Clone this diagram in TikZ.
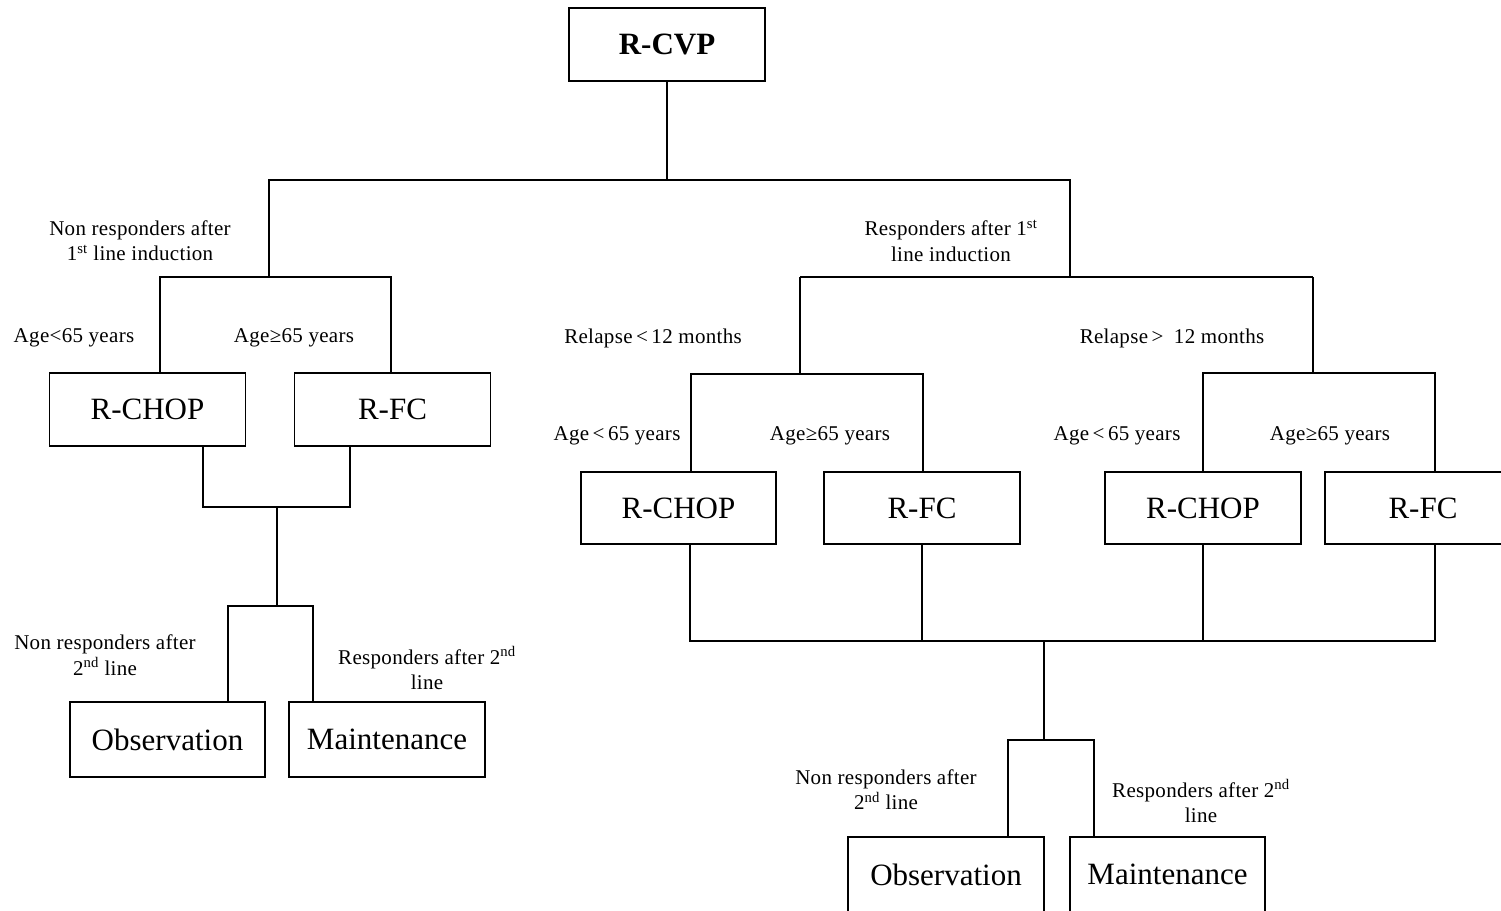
\documentclass[tikz,border=0pt]{standalone}
\usepackage{fontspec}
\setmainfont{Liberation Serif}
\begin{document}
\begin{tikzpicture}[x=1pt,y=-1pt,line width=1.3pt,
  box/.style={draw,line width=1.3pt,inner sep=0pt,minimum width=196pt,minimum height=73pt,font=\fontsize{31}{36}\selectfont},
  lbl/.style={align=center,inner sep=0pt,font=\fontsize{21}{25.5}\selectfont\addfontfeature{LetterSpace=1.5}}]
\useasboundingbox (0,0) rectangle (1501,910);
\clip (0,0) rectangle (1501,910);
% boxes
\node[box,font=\fontsize{31}{36}\selectfont\bfseries] (rcvp) at (667,44.5) {R-CVP};
\node[box] (chopA) at (147.5,409.5) {R-CHOP};
\node[box] (fcA) at (392.5,409.5) {R-FC};
\node[box,minimum height=75pt,minimum width=195pt] (obsA) at (167.5,739.5) {Observation};
\node[box,minimum height=75pt] (maintA) at (387,739.5) {Maintenance};
\node[box,minimum height=72pt,minimum width=195pt] (chopB) at (678.5,508) {R-CHOP};
\node[box,minimum height=72pt] (fcB) at (922,508) {R-FC};
\node[box,minimum height=72pt] (chopC) at (1203,508) {R-CHOP};
\node[box,minimum height=72pt] (fcC) at (1423,508) {R-FC};
\node[box,minimum height=75pt] (obsB) at (946,874.5) {Observation};
\node[box,minimum height=75pt,minimum width=195pt] (maintB) at (1167.5,874.5) {Maintenance};
% junction coordinates
\coordinate (t0) at (667,180);
\coordinate (tL) at (269,180);
\coordinate (tR) at (1070,180);
\coordinate (mL) at (269,277);
\coordinate (aL) at (160,277);
\coordinate (aR) at (391,277);
\coordinate (bL) at (203,507);
\coordinate (bR) at (350,507);
\coordinate (bC) at (277,507);
\coordinate (cC) at (277,606);
\coordinate (cL) at (228,606);
\coordinate (cR) at (313,606);
\coordinate (mR) at (1070,277);
\coordinate (dL) at (800,277);
\coordinate (dR) at (1313,277);
\coordinate (e1L) at (691,374);
\coordinate (e1R) at (923,374);
\coordinate (f1L) at (1203,373);
\coordinate (f1R) at (1435,373);
\coordinate (g1) at (690,641);
\coordinate (g2) at (922,641);
\coordinate (g3) at (1203,641);
\coordinate (g4) at (1435,641);
\coordinate (gC) at (1044,641);
\coordinate (hC) at (1044,740);
\coordinate (hL) at (1008,740);
\coordinate (hR) at (1094,740);
% connectors
\draw (rcvp.south) -- (t0);
\draw (mL) -- (tL) -- (tR) -- (mR);
\draw (chopA.north -| aL) -- (aL) -- (aR) -- (fcA.north -| aR);
\draw (chopA.south -| bL) -- (bL) -- (bR) -- (fcA.south -| bR);
\draw (bC) -- (cC);
\draw (obsA.north -| cL) -- (cL) -- (cR) -- (maintA.north -| cR);
\draw (dL) -- (dR);
\draw (dL) -- (dL |- e1L);
\draw (chopB.north -| e1L) -- (e1L) -- (e1R) -- (fcB.north -| e1R);
\draw (dR) -- (dR |- f1L);
\draw (chopC.north -| f1L) -- (f1L) -- (f1R) -- (fcC.north -| f1R);
\draw (chopB.south -| g1) -- (g1) -- (g4) -- (fcC.south -| g4);
\draw (fcB.south -| g2) -- (g2);
\draw (chopC.south -| g3) -- (g3);
\draw (gC) -- (hC);
\draw (obsB.north -| hL) -- (hL) -- (hR) -- (maintB.north -| hR);
% labels
\node[lbl] (l1) at (140,240.5) {Non responders after\\1\textsuperscript{st} line induction};
\node[lbl] (l2) at (951,240.5) {Responders after 1\textsuperscript{st}\\line induction};
\node[lbl] (l3) at (74,338) {Age<65 years};
\node[lbl] (l4) at (294,338) {Age≥65 years};
\node[lbl] (l5) at (653,338) {Relapse\,<\,12 months};
\node[lbl] (l6) at (1172,338) {Relapse\,>\enspace 12 months};
\node[lbl] (l7) at (617,436) {Age\,<\,65 years};
\node[lbl] (l8) at (830,436) {Age≥65 years};
\node[lbl] (l9) at (1117,436) {Age\,<\,65 years};
\node[lbl] (l10) at (1330,436) {Age≥65 years};
\node[lbl] (l11) at (105,655) {Non responders after\\2\textsuperscript{nd} line};
\node[lbl] (l12) at (427,668) {Responders after 2\textsuperscript{nd}\\line};
\node[lbl] (l13) at (886,789.5) {Non responders after\\2\textsuperscript{nd} line};
\node[lbl] (l14) at (1201,801) {Responders after 2\textsuperscript{nd}\\line};
\end{tikzpicture}
\end{document}
